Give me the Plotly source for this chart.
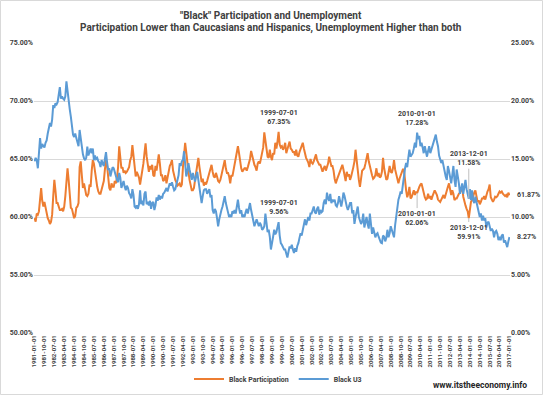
import plotly.graph_objects as go

# ---------------- data (monthly, 1981-01 .. 2017-01) ----------------
participation = [
    59.9, 59.6, 60.3, 60.2, 60.5, 61.6, 62.5, 61.4, 60.9, 61.3, 60.7, 60.1,   # 1981
    59.9, 59.7, 59.4, 59.6, 60.2, 61.8, 63.2, 62.3, 61.2, 61.2, 60.9, 60.6,   # 1982
    60.6, 60.7, 60.5, 60.9, 61.8, 63.4, 64.2, 63.2, 61.8, 60.8, 60.7, 60.3,   # 1983
    59.9, 60.1, 60.8, 60.9, 61.2, 64.3, 64.8, 63.6, 62.5, 62.9, 62.3, 61.9,   # 1984
    61.8, 62.0, 62.8, 62.6, 64.0, 64.9, 64.6, 63.8, 63.2, 62.6, 62.2, 62.0,   # 1985
    62.0, 62.4, 62.7, 63.1, 64.1, 64.9, 64.4, 63.2, 62.5, 62.3, 62.9, 62.6,   # 1986
    62.6, 63.1, 62.9, 63.4, 64.3, 66.1, 65.2, 64.2, 64.3, 63.8, 64.0, 63.8,   # 1987
    63.9, 64.1, 64.3, 64.9, 65.2, 66.2, 65.3, 64.3, 63.5, 63.9, 63.7, 63.4,   # 1988
    62.8, 63.3, 64.0, 64.6, 65.5, 66.35, 65.2, 64.3, 63.9, 64.4, 64.1, 64.5,  # 1989
    63.6, 63.5, 64.4, 64.0, 64.6, 65.4, 64.6, 63.6, 63.6, 63.1, 63.2, 63.6,   # 1990
    62.9, 63.5, 64.0, 64.4, 64.6, 64.9, 64.0, 63.4, 63.2, 63.0, 62.7, 62.8,   # 1991
    62.9, 62.6, 62.8, 64.3, 65.2, 66.4, 65.6, 64.4, 63.9, 63.2, 62.6, 62.3,   # 1992
    62.3, 62.5, 63.2, 64.0, 64.4, 65.1, 64.3, 63.6, 63.0, 63.3, 62.7, 63.0,   # 1993
    62.8, 63.1, 63.5, 63.9, 64.1, 64.5, 63.9, 63.5, 63.4, 63.8, 63.5, 63.1,   # 1994
    63.0, 63.2, 63.6, 64.0, 64.4, 64.9, 64.2, 63.8, 63.8, 63.5, 62.9, 63.6,   # 1995
    63.5, 64.1, 64.6, 65.3, 65.6, 66.1, 65.5, 64.8, 64.2, 63.9, 64.1, 64.2,   # 1996
    64.2, 64.0, 64.3, 64.6, 65.0, 65.7, 65.2, 64.8, 64.5, 64.3, 64.0, 64.6,   # 1997
    64.8, 64.6, 65.0, 65.4, 66.0, 67.3, 66.4, 65.8, 65.2, 65.1, 65.8, 65.2,   # 1998
    64.9, 65.5, 65.4, 66.4, 65.9, 66.5, 67.35, 66.25, 66.0, 66.1, 65.8, 66.0, # 1999
    66.4, 65.5, 65.9, 66.2, 66.5, 65.9, 65.8, 65.6, 65.6, 65.3, 65.8, 65.3,   # 2000
    65.2, 65.6, 65.9, 66.0, 66.4, 65.9, 65.4, 65.1, 64.9, 64.7, 64.3, 65.0,   # 2001
    64.7, 64.6, 64.8, 65.1, 65.4, 64.9, 64.6, 64.5, 64.5, 64.1, 63.9, 64.2,   # 2002
    64.4, 64.0, 64.3, 64.6, 65.2, 64.8, 64.4, 64.4, 64.0, 63.3, 62.9, 63.2,   # 2003
    63.5, 63.7, 64.0, 64.2, 64.5, 64.1, 63.5, 63.1, 63.9, 63.5, 63.7, 63.2,   # 2004
    63.5, 63.8, 64.3, 64.8, 65.8, 64.9, 63.9, 63.2, 62.6, 63.6, 64.0, 64.1,   # 2005
    64.2, 64.6, 65.0, 65.5, 64.8, 64.3, 64.0, 63.6, 63.3, 63.4, 63.6, 64.2,   # 2006
    63.5, 63.8, 63.4, 63.5, 63.9, 65.1, 64.2, 63.5, 63.2, 63.3, 64.1, 64.4,   # 2007
    63.9, 63.8, 64.2, 64.9, 64.1, 63.7, 63.2, 62.9, 63.3, 63.6, 63.8, 64.1,   # 2008
    64.1, 63.0, 62.3, 61.7, 62.0, 62.6, 61.6, 61.7, 62.0, 62.3, 61.9, 62.2,   # 2009
    62.06, 62.4, 62.6, 62.8, 62.9, 62.5, 61.9, 61.7, 61.5, 61.6, 62.0, 61.6,  # 2010
    61.8, 61.5, 61.8, 62.0, 62.3, 62.1, 61.9, 61.5, 61.4, 61.3, 61.5, 61.7,   # 2011
    61.9, 61.6, 62.0, 62.3, 62.6, 62.9, 62.2, 61.9, 62.3, 62.0, 61.45, 61.6,  # 2012
    61.6, 61.9, 62.0, 62.1, 62.3, 62.6, 61.75, 61.2, 61.0, 60.7, 60.5, 59.91, # 2013
    60.9, 61.3, 61.45, 61.9, 62.1, 62.3, 61.7, 61.3, 61.45, 61.1, 61.3, 61.6, # 2014
    61.6, 61.8, 61.5, 61.9, 62.2, 62.4, 62.8, 61.7, 61.45, 61.3, 61.5, 61.75, # 2015
    61.7, 61.8, 62.0, 62.2, 62.1, 62.2, 62.0, 61.9, 61.8, 61.9, 61.7, 62.1,   # 2016
    61.87,                                                                    # 2017
]

u3 = [
    14.8, 15.1, 14.9, 14.2, 15.5, 16.8, 15.9, 16.3, 16.1, 16.0, 16.4, 16.6,   # 1981
    17.2, 17.6, 18.1, 17.8, 18.4, 19.65, 19.4, 19.8, 19.7, 19.9, 20.5, 21.2,  # 1982
    20.2, 20.4, 20.2, 20.1, 20.4, 21.7, 20.9, 19.8, 19.3, 18.65, 17.8, 17.1,  # 1983
    16.9, 17.2, 16.8, 16.5, 16.1, 17.5, 16.6, 15.8, 15.4, 15.06, 14.9, 15.1,  # 1984
    16.06, 15.3, 15.6, 15.9, 15.5, 15.9, 14.9, 15.3, 15.0, 15.1, 14.8, 14.7,  # 1985
    14.3, 14.9, 14.6, 14.4, 15.0, 15.6, 14.7, 14.05, 14.2, 13.5, 13.9, 14.3,  # 1986
    14.2, 13.8, 13.5, 13.2, 13.0, 13.8, 13.4, 12.5, 12.8, 13.1, 12.6, 12.3,   # 1987
    12.7, 12.5, 12.05, 11.9, 11.6, 12.4, 11.9, 10.9, 10.8, 11.0, 10.7, 11.1,  # 1988
    12.3, 11.1, 11.4, 11.0, 12.0, 12.2, 11.1, 11.3, 11.0, 11.4, 10.7, 11.2,   # 1989
    11.3, 10.6, 11.0, 11.7, 11.4, 11.9, 11.5, 11.8, 11.6, 12.0, 12.1, 12.3,   # 1990
    12.5, 12.2, 12.6, 12.9, 12.7, 13.0, 12.6, 12.3, 12.4, 12.8, 13.2, 13.6,   # 1991
    14.65, 14.4, 14.8, 14.9, 15.67, 14.5, 13.5, 13.9, 14.65, 14.1, 13.5, 13.2,# 1992
    13.8, 13.4, 13.05, 13.5, 13.9, 13.2, 12.6, 12.1, 11.2, 11.8, 12.3, 12.4,  # 1993
    12.4, 12.0, 12.2, 12.4, 11.7, 11.9, 10.6, 10.3, 10.7, 10.5, 9.9, 9.2,     # 1994
    9.8, 10.3, 10.6, 10.9, 11.5, 11.8, 11.2, 10.6, 10.4, 10.0, 10.2, 10.0,    # 1995
    10.5, 10.3, 10.6, 10.3, 10.9, 11.5, 10.8, 10.3, 10.6, 10.0, 10.2, 10.0,   # 1996
    10.4, 10.7, 10.3, 10.8, 11.2, 10.6, 10.0, 9.6, 9.2, 9.5, 9.8, 9.5,        # 1997
    9.2, 9.5, 9.3, 8.9, 9.0, 9.2, 10.3, 9.5, 8.7, 8.9, 8.3, 7.2,              # 1998
    8.0, 8.3, 8.9, 8.5, 8.7, 9.1, 9.56, 8.4, 7.75, 7.6, 7.45, 7.2,            # 1999
    7.2, 6.9, 6.5, 7.0, 7.45, 7.3, 7.6, 7.2, 6.9, 7.3, 7.0, 7.5,              # 2000
    7.75, 8.2, 8.6, 8.4, 8.9, 9.2, 9.8, 9.3, 9.6, 10.0, 9.7, 10.3,            # 2001
    10.3, 10.6, 10.9, 10.4, 10.3, 10.7, 10.9, 10.2, 10.6, 10.4, 10.5, 11.2,   # 2002
    11.5, 11.1, 12.1, 11.6, 11.4, 12.0, 11.2, 11.5, 11.3, 11.5, 11.0, 10.9,   # 2003
    11.2, 11.8, 11.4, 10.9, 11.4, 12.1, 11.8, 11.2, 10.9, 10.6, 10.9, 11.2,   # 2004
    11.2, 10.3, 10.6, 9.4, 10.0, 10.6, 10.9, 10.0, 9.7, 9.4, 9.6, 10.3,       # 2005
    9.1, 9.6, 10.0, 9.4, 9.0, 10.3, 9.5, 8.55, 9.1, 8.6, 8.25, 8.5,           # 2006
    8.6, 8.3, 8.0, 7.8, 7.75, 8.4, 8.3, 7.9, 8.2, 8.9, 8.25, 8.6,             # 2007
    9.2, 8.9, 8.6, 8.25, 9.3, 10.0, 10.9, 11.5, 11.8, 12.2, 12.0, 12.9,       # 2008
    13.7, 14.2, 14.65, 14.3, 15.1, 15.8, 15.2, 15.4, 15.5, 15.9, 16.4, 16.0,  # 2009
    17.28, 16.7, 17.0, 16.1, 16.4, 16.0, 15.5, 16.1, 15.6, 15.2, 15.7, 16.1,  # 2010
    15.5, 15.8, 16.1, 16.4, 16.7, 17.1, 16.5, 16.1, 15.3, 14.9, 14.65, 14.9,  # 2011
    14.3, 14.1, 13.5, 13.2, 14.4, 14.0, 13.5, 12.9, 13.6, 14.4, 13.2, 12.6,   # 2012
    14.1, 13.6, 12.9, 12.0, 12.5, 12.9, 12.0, 12.6, 13.2, 12.4, 12.0, 11.58,  # 2013
    12.4, 11.45, 12.3, 11.45, 11.2, 11.75, 11.3, 10.9, 10.6, 10.0, 10.3, 9.7, # 2014
    10.1, 9.7, 9.9, 9.1, 9.5, 9.6, 9.2, 8.8, 9.0, 8.8, 8.25, 8.7,             # 2015
    8.8, 8.55, 8.0, 8.3, 8.0, 8.4, 8.5, 7.8, 8.0, 7.6, 7.4, 7.9,              # 2016
    8.27,                                                                     # 2017
]

months = [f"{y}-{m:02d}-01" for y in range(1981, 2018) for m in range(1, 13)][:len(participation)]
tick_labels = months[::9]

title_line1 = '"Black" Participation and Unemployment'
title_line2 = 'Participation Lower than Caucasians and Hispanics, Unemployment Higher than both'
series_names = ["Black Participation", "Black U3"]
watermark = "www.itstheeconomy.info"

# labelled points: (date, series, text placement)
labelled = [
    ("1999-07-01", "part", "above"),
    ("1999-07-01", "u3", "above"),
    ("2010-01-01", "u3", "above"),
    ("2013-12-01", "u3", "leader_up"),
    ("2010-01-01", "part", "leader_down"),
    ("2013-12-01", "part", "leader_down_short"),
]

ORANGE = "#ED7D31"
BLUE = "#5B9BD5"
TXT = "#404040"
FONT = "Roboto"

fig = go.Figure()
fig.add_trace(go.Scatter(x=months, y=participation, name=series_names[0], mode="lines",
                         line=dict(color=ORANGE, width=2)))
fig.add_trace(go.Scatter(x=months, y=u3, name=series_names[1], mode="lines", yaxis="y2",
                         line=dict(color=BLUE, width=2)))

annotations = []
for date, ser, how in labelled:
    i = months.index(date)
    val = participation[i] if ser == "part" else u3[i]
    yref = "y" if ser == "part" else "y2"
    text = f"<b>{date}</b><br><b>{val:.2f}%</b>"
    base = dict(x=date, y=val, xref="x", yref=yref, text=text,
                font=dict(size=7, color=TXT, family=FONT), align="center")
    if how == "above":
        annotations.append(dict(base, showarrow=False, yanchor="bottom", yshift=4))
    elif how == "leader_up":
        annotations.append(dict(base, showarrow=True, arrowhead=0, arrowwidth=1,
                                arrowcolor="#BFBFBF", ax=0, ay=-40))
    elif how == "leader_down":
        annotations.append(dict(base, showarrow=True, arrowhead=0, arrowwidth=1,
                                arrowcolor="#BFBFBF", ax=0, ay=25))
    else:
        annotations.append(dict(base, showarrow=True, arrowhead=0, arrowwidth=1,
                                arrowcolor="#BFBFBF", ax=0, ay=14))

# end labels
annotations.append(dict(x=months[-1], y=participation[-1], xref="x", yref="y",
                        text=f"<b>{participation[-1]:.2f}%</b>", showarrow=False,
                        xanchor="left", yanchor="middle", xshift=6,
                        font=dict(size=7, color=TXT, family=FONT)))
annotations.append(dict(x=months[-1], y=u3[-1], xref="x", yref="y2",
                        text=f"<b>{u3[-1]:.2f}%</b>", showarrow=False,
                        xanchor="left", yanchor="middle", xshift=6,
                        font=dict(size=7, color=TXT, family=FONT)))

# titles
annotations.append(dict(text=f"<b>{title_line1}</b>", xref="paper", yref="paper",
                        x=(271 - 34) / 476, y=(333 - 15.5) / 290, showarrow=False,
                        xanchor="center", yanchor="middle",
                        font=dict(size=10, color=TXT, family=FONT)))
annotations.append(dict(text=f"<b>{title_line2}</b>", xref="paper", yref="paper",
                        x=(271 - 34) / 476, y=(333 - 28.5) / 290, showarrow=False,
                        xanchor="center", yanchor="middle",
                        font=dict(size=10, color=TXT, family=FONT)))
annotations.append(dict(text=f"<b>{watermark}</b>", xref="paper", yref="paper",
                        x=(480 - 34) / 476, y=(333 - 385) / 290, showarrow=False,
                        xanchor="center", yanchor="middle",
                        font=dict(size=8.5, color="#262626", family=FONT)))

fig.update_layout(
    width=543, height=395,
    margin=dict(l=34, r=33, t=43, b=62, autoexpand=False),
    paper_bgcolor="white", plot_bgcolor="white",
    font=dict(family=FONT, color=TXT),
    showlegend=True,
    legend=dict(orientation="h", x=(189 - 34) / 476, xanchor="left",
                y=(333 - 379) / 290, yanchor="middle",
                font=dict(size=7, color=TXT, family=FONT, weight="bold"),
                itemwidth=30, tracegroupgap=0),
    xaxis=dict(type="category", range=[-0.5, len(months) - 0.5],
               tickmode="array", tickvals=tick_labels, ticktext=tick_labels,
               tickangle=-90, tickfont=dict(size=6, color=TXT, family=FONT, weight="bold"),
               showgrid=False, showline=False, zeroline=False, ticks="", automargin=False),
    yaxis=dict(range=[50, 75], tick0=50, dtick=5, tickformat=".2f", ticksuffix="%",
               tickfont=dict(size=7, color=TXT, family=FONT, weight="bold"),
               gridcolor="#D9D9D9", gridwidth=1, zeroline=False, showline=False,
               automargin=False),
    yaxis2=dict(range=[0, 25], tick0=0, dtick=5, tickformat=".2f", ticksuffix="%",
                overlaying="y", side="right", showgrid=False, zeroline=False,
                tickfont=dict(size=7, color=TXT, family=FONT, weight="bold"),
                automargin=False),
    annotations=annotations,
    shapes=[dict(type="rect", xref="paper", yref="paper",
                 x0=(0.5 - 34) / 476, x1=(542.5 - 34) / 476,
                 y0=(333 - 394.5) / 290, y1=(333 - 0.5) / 290,
                 line=dict(color="#D9D9D9", width=1), layer="below")],
)

fig.write_html("out.html", config={"displayModeBar": False},
               post_script="document.body.style.margin='0px';document.body.style.overflow='hidden';")
